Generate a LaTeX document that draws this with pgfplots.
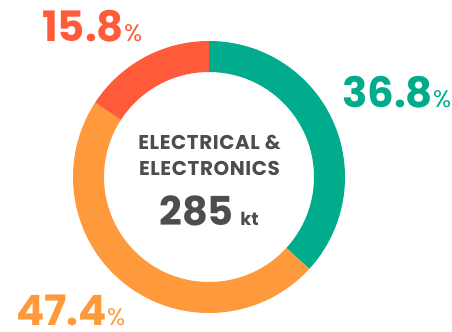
\documentclass[border=0pt]{standalone}
\usepackage{pgfplots}
\pgfplotsset{compat=1.18}
\usepackage{fontspec}
\setmainfont{Poppins}
\definecolor{cgreen}{HTML}{00AC8C}
\definecolor{corange}{HTML}{FF9A3C}
\definecolor{cred}{HTML}{FF5A3A}
\definecolor{ctext}{HTML}{4D4D4D}
\begin{document}
\begin{tikzpicture}
% shares (%): Green, Orange, Red
\pgfmathsetmacro{\va}{36.8}
\pgfmathsetmacro{\vb}{47.4}
\pgfmathsetmacro{\vc}{15.8}
\pgfmathsetmacro{\aa}{90}
\pgfmathsetmacro{\ab}{90-3.6*\va}
\pgfmathsetmacro{\ac}{\ab-3.6*\vb}
\pgfmathsetmacro{\ad}{\ac-3.6*\vc}
\begin{axis}[
  x=1bp, y=1bp, scale only axis,
  xmin=0, xmax=452, ymin=0, ymax=331,
  hide axis, clip=false,
]
\addplot[cgreen, line width=31bp, line cap=butt, domain=\ab:\aa, samples=120, smooth]
  ({209+120.5*cos(x)}, {154+120.5*sin(x)});
\addplot[corange, line width=31bp, line cap=butt, domain=\ac:\ab, samples=150, smooth]
  ({209+120.5*cos(x)}, {154+120.5*sin(x)});
\addplot[cred, line width=31bp, line cap=butt, domain=\ad:\ac, samples=60, smooth]
  ({209+120.5*cos(x)}, {154+120.5*sin(x)});

\node[anchor=base west, inner sep=0, text=cred] at (axis cs:42,290)
  {\fontsize{42}{42}\selectfont\bfseries 15.8\fontsize{24}{24}\selectfont\mdseries\%};
\node[anchor=base west, inner sep=0, text=cgreen] at (axis cs:342,224)
  {\fontsize{42}{42}\selectfont\bfseries 36.8\fontsize{24}{24}\selectfont\mdseries\%};
\node[anchor=base west, inner sep=0, text=corange] at (axis cs:16,6)
  {\fontsize{42}{42}\selectfont\bfseries 47.4\fontsize{24}{24}\selectfont\mdseries\%};

\node[anchor=base, inner sep=0, text=ctext] at (axis cs:209.5,182)
  {\fontsize{20}{20}\selectfont\bfseries\addfontfeature{LetterSpace=3}ELECTRICAL \&};
\node[anchor=base, inner sep=0, text=ctext] at (axis cs:209.5,156)
  {\fontsize{20}{20}\selectfont\bfseries\addfontfeature{LetterSpace=3}ELECTRONICS};
\node[anchor=base, inner sep=0, text=ctext] at (axis cs:209,106)
  {\fontsize{40}{40}\selectfont\bfseries 285\,\fontsize{18}{18}\selectfont kt};
\end{axis}
\pgfresetboundingbox
\path[use as bounding box] (current axis.south west) rectangle (current axis.north east);
\end{tikzpicture}
\end{document}
